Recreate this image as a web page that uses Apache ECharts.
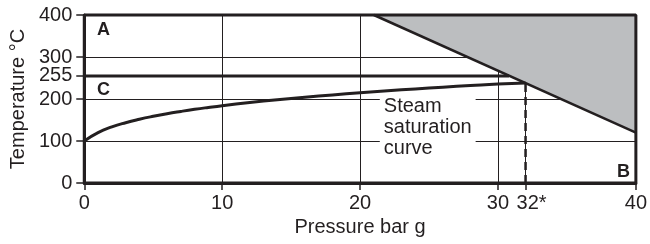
<!DOCTYPE html>
<html lang="en">
<head>
    <meta charset="UTF-8">
    <title>Steam saturation curve</title>
    <script src="https://cdn.jsdelivr.net/npm/echarts@6/dist/echarts.min.js"></script>
    <style>
        html, body { margin: 0; padding: 0; background: #fff; }
    </style>
</head>
<body>
<div id="main" style="width: 650px;height:244px;"></div>

<script type="text/javascript">
    // saturation curve, pressure (bar g) vs temperature (°C)
    var pressure = [0, 1, 2, 3, 4, 5, 6, 7, 8, 9, 10, 12, 14, 16, 18, 20, 22, 24, 26, 28, 30, 32];
    var satTemp = [100, 120, 133.5, 143.6, 151.8, 158.8, 165, 170.4, 175.4, 179.9, 184.1, 191.6, 198.3, 204.3, 209.8, 214.9, 219.6, 224, 228.1, 232, 235.7, 238];

    var xTicks = [0, 10, 20, 30, 32, 40];
    var yTicks = [0, 100, 200, 255, 300, 400];

    // limit line of the shaded region (pressure, temperature)
    var limitLine = [[21, 400], [40, 120]];
    // 255 °C line
    var line255 = [[0, 255], [30.8, 255]];
    // dashed 32 bar line
    var line32 = [[32, 0], [32, 238]];
    // box round the plot
    var frame = [[0, 0], [40, 0], [40, 400], [0, 400], [0, 0]];

    var zones = [
        {name: 'A', value: [1.4, 365]},
        {name: 'C', value: [1.4, 221]},
        {name: 'B', value: [39.1, 27]}
    ];
    var curveLabel = [21.43, 209];

    var ink = '#231f20';
    var font = '"Liberation Sans", Arial, sans-serif';

    var curveData = pressure.map(function (p, i) { return [p, satTemp[i]]; });

    var myChart = echarts.init(document.getElementById('main'));

    var option = {
        animation: false,
        grid: {left: 81, right: 8, top: 15, bottom: 61},
        xAxis: {
            type: 'value',
            min: 0, max: 40, interval: 10,
            name: 'Pressure bar g',
            nameLocation: 'middle',
            nameGap: 34,
            nameTextStyle: {fontSize: 20, color: ink, fontFamily: font},
            axisLine: {lineStyle: {color: ink, width: 3}},
            axisTick: {customValues: xTicks, length: 7, lineStyle: {color: ink, width: 1.5}},
            axisLabel: {
                customValues: xTicks,
                fontSize: 20, color: ink, fontFamily: font, margin: 10,
                formatter: function (v) {
                    return v === 32 ? '{s|32*}' : String(v);
                },
                rich: {s: {fontSize: 20, color: ink, fontFamily: font, padding: [0, 0, 0, 12]}}
            },
            splitLine: {show: true, lineStyle: {color: ink, width: 1}}
        },
        yAxis: {
            type: 'value',
            min: 0, max: 400, interval: 100,
            name: 'Temperature °C',
            nameLocation: 'middle',
            nameGap: 56,
            nameTextStyle: {fontSize: 20, color: ink, fontFamily: font},
            axisLine: {show: true, lineStyle: {color: ink, width: 3}},
            axisTick: {show: true, customValues: yTicks, length: 8, lineStyle: {color: ink, width: 1.5}},
            axisLabel: {customValues: yTicks, fontSize: 20, color: ink, fontFamily: font, margin: 12},
            splitLine: {show: true, lineStyle: {color: ink, width: 1}}
        },
        series: [
            {
                type: 'line',
                data: limitLine,
                symbol: 'none',
                z: 3,
                clip: false,
                lineStyle: {color: ink, width: 2.5},
                areaStyle: {origin: 'end', color: '#bcbec0', opacity: 1}
            },
            {
                type: 'line',
                data: curveData,
                symbol: 'none',
                smooth: true,
                z: 4,
                lineStyle: {color: ink, width: 3}
            },
            {
                type: 'line',
                data: line255,
                symbol: 'none',
                z: 4,
                lineStyle: {color: ink, width: 3}
            },
            {
                type: 'line',
                data: line32,
                symbol: 'none',
                z: 4,
                lineStyle: {color: ink, width: 2.5, type: [8, 5]}
            },
            {
                type: 'line',
                data: frame,
                symbol: 'none',
                z: 5,
                clip: false,
                lineStyle: {color: ink, width: 3}
            },
            {
                type: 'scatter',
                data: zones,
                symbolSize: 0,
                z: 6,
                itemStyle: {opacity: 1},
                label: {
                    show: true, position: 'inside',
                    formatter: '{b}',
                    fontSize: 18, fontWeight: 'bold', color: ink, fontFamily: font
                }
            },
            {
                type: 'scatter',
                data: [{value: curveLabel}],
                symbolSize: 0,
                z: 6,
                itemStyle: {opacity: 1},
                label: {
                    show: true, position: 'inside',
                    align: 'left', verticalAlign: 'top',
                    formatter: 'Steam\nsaturation\ncurve',
                    fontSize: 20, lineHeight: 21, color: ink, fontFamily: font,
                    backgroundColor: '#fff',
                    padding: [1, 4, 1, 4]
                }
            }
        ]
    };

    myChart.setOption(option);
</script>
</body>
</html>
